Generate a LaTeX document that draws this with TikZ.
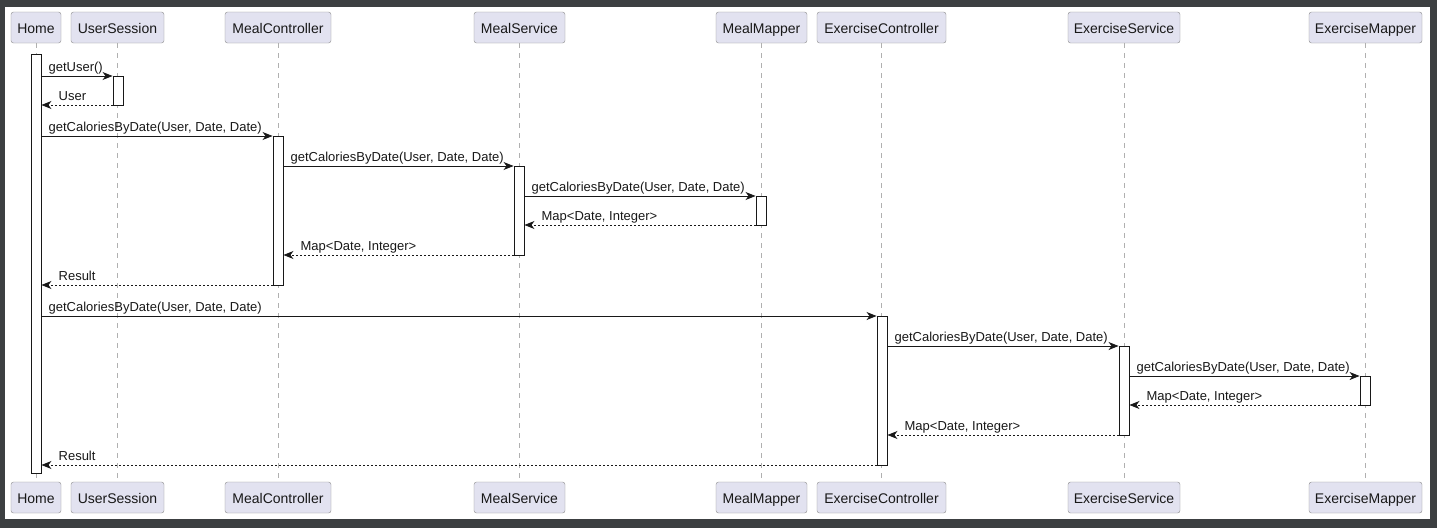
\documentclass[tikz,border=0pt]{standalone}
\usepackage{fontspec}
\setmainfont{Liberation Sans}
\usetikzlibrary{arrows.meta,calc,positioning}

\definecolor{framegray}{HTML}{3C3F41}
\definecolor{partfill}{HTML}{E2E2F0}
\definecolor{partline}{HTML}{8C8C8C}
\definecolor{lifegray}{HTML}{B0B0B0}
\definecolor{ink}{HTML}{181818}

\tikzset{
  part/.style={draw=partline, fill=partfill, rounded corners=2.5pt, minimum height=31pt, inner xsep=0pt,
    text height=13.5pt, text depth=2.5pt, font=\fontsize{14}{16}\selectfont, text=ink},
  life/.style={draw=lifegray, line width=0.9pt, dash pattern=on 5pt off 5pt},
  actbar/.style={draw=ink, fill=white, line width=0.9pt, minimum width=10pt, inner sep=0pt, anchor=north},
  call/.style={draw=ink, line width=0.9pt, -{Stealth[length=10pt,width=8pt,inset=3pt]}},
  reply/.style={draw=ink, line width=0.9pt, dash pattern=on 2pt off 2pt, -{Stealth[length=10pt,width=8pt,inset=3pt]}},
  lbl/.style={font=\fontsize{13}{15}\selectfont, text=ink, inner sep=0pt, anchor=base west}
}

\begin{document}
\begin{tikzpicture}[x=1pt,y=-1pt]
% frame
\fill[framegray] (0,0) rectangle (1437,528);
\fill[white] (5,7) rectangle (1430,519);
\useasboundingbox (0,0) rectangle (1437,528);

% participants and lifelines
\foreach \id/\name/\x/\w in {H/Home/36/50, US/UserSession/117.5/93, MC/MealController/278/106,
    MS/MealService/519.5/91, MM/MealMapper/761.5/91, EC/ExerciseController/881.5/129,
    ES/ExerciseService/1124/112, EM/ExerciseMapper/1365.5/113} {
  \node[part, minimum width=\w pt] (top\id) at (\x,27.5) {\name};
  \node[part, minimum width=\w pt] (bot\id) at (\x,497.5) {\name};
  \draw[life] (top\id) -- (bot\id);
}

% activations
\node[actbar, minimum height=419pt] (actH) at (36,54) {};
\node[actbar, minimum height=29pt] (actUS) at (118,76) {};
\node[actbar, minimum height=149pt] (actMC) at (278,136) {};
\node[actbar, minimum height=89pt] (actMS) at (519,166) {};
\node[actbar, minimum height=29pt] (actMM) at (761,196) {};
\node[actbar, minimum height=149pt] (actEC) at (882,316) {};
\node[actbar, minimum height=89pt] (actES) at (1124,346) {};
\node[actbar, minimum height=29pt] (actEM) at (1365,376) {};

% message ends
\coordinate (m1a) at (actH.east |- 0,76);    \coordinate (m1b) at (actUS.west |- 0,76);
\coordinate (m2a) at (actUS.west |- 0,105);  \coordinate (m2b) at (actH.east |- 0,105);
\coordinate (m3a) at (actH.east |- 0,136);   \coordinate (m3b) at (actMC.west |- 0,136);
\coordinate (m4a) at (actMC.east |- 0,166);  \coordinate (m4b) at (actMS.west |- 0,166);
\coordinate (m5a) at (actMS.east |- 0,196);  \coordinate (m5b) at (actMM.west |- 0,196);
\coordinate (m6a) at (actMM.west |- 0,225);  \coordinate (m6b) at (actMS.east |- 0,225);
\coordinate (m7a) at (actMS.west |- 0,255);  \coordinate (m7b) at (actMC.east |- 0,255);
\coordinate (m8a) at (actMC.west |- 0,285);  \coordinate (m8b) at (actH.east |- 0,285);
\coordinate (m9a) at (actH.east |- 0,316);   \coordinate (m9b) at (actEC.west |- 0,316);
\coordinate (m10a) at (actEC.east |- 0,346); \coordinate (m10b) at (actES.west |- 0,346);
\coordinate (m11a) at (actES.east |- 0,376); \coordinate (m11b) at (actEM.west |- 0,376);
\coordinate (m12a) at (actEM.west |- 0,405); \coordinate (m12b) at (actES.east |- 0,405);
\coordinate (m13a) at (actES.west |- 0,435); \coordinate (m13b) at (actEC.east |- 0,435);
\coordinate (m14a) at (actEC.west |- 0,465); \coordinate (m14b) at (actH.east |- 0,465);

% calls
\foreach \m/\txt in {m1/getUser(), m3/{getCaloriesByDate(User, Date, Date)}, m4/{getCaloriesByDate(User, Date, Date)},
    m5/{getCaloriesByDate(User, Date, Date)}, m9/{getCaloriesByDate(User, Date, Date)},
    m10/{getCaloriesByDate(User, Date, Date)}, m11/{getCaloriesByDate(User, Date, Date)}} {
  \draw[call] (\m a) -- (\m b);
  \node[lbl] at ($(\m a)+(7,-5)$) {\txt};
}

% replies
\foreach \m/\txt in {m2/User, m6/{Map<Date, Integer>}, m7/{Map<Date, Integer>}, m8/Result,
    m12/{Map<Date, Integer>}, m13/{Map<Date, Integer>}, m14/Result} {
  \draw[reply] (\m a) -- (\m b);
  \node[lbl] at ($(\m b)+(17,-5)$) {\txt};
}
\end{tikzpicture}
\end{document}
